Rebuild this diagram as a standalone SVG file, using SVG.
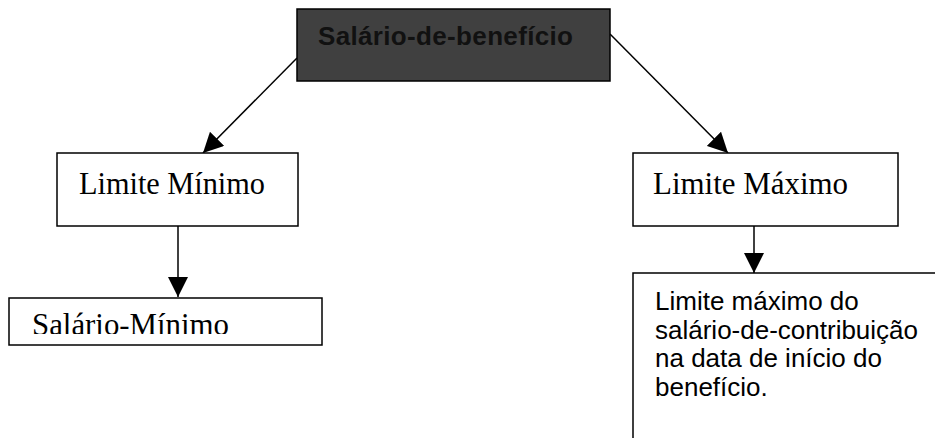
<svg xmlns="http://www.w3.org/2000/svg" width="935" height="438" viewBox="0 0 935 438">
  <style>
    .box { fill: #ffffff; stroke: #000000; stroke-width: 1.5; }
    .dark { fill: #404040; stroke: #000000; stroke-width: 1.5; }
    .conn { stroke: #000000; stroke-width: 1.5; fill: none; marker-end: url(#arrow); }
    .serif { font-family: "Liberation Serif", "Times New Roman", serif; font-size: 31px; fill: #000000; }
    .sans { font-family: "Liberation Sans", Arial, sans-serif; font-size: 26px; fill: #000000; }
    .bold { font-family: "Liberation Sans", Arial, sans-serif; font-size: 26px; font-weight: bold; fill: #111111; }
  </style>
  <defs>
    <marker id="arrow" markerUnits="userSpaceOnUse" viewBox="0 0 20 20" refX="20" refY="10" markerWidth="20" markerHeight="20" orient="auto">
      <path d="M0,0 L20,10 L0,20 z" fill="#000000"/>
    </marker>
    <clipPath id="clipSM">
      <rect x="9" y="298" width="313" height="36"/>
    </clipPath>
  </defs>
  <rect width="935" height="438" fill="#ffffff"/>

  <g id="connectors">
    <line class="conn" x1="297" y1="58" x2="203" y2="153"/>
    <line class="conn" x1="610" y1="34" x2="728" y2="153"/>
    <line class="conn" x1="178" y1="226" x2="178" y2="297"/>
    <line class="conn" x1="754" y1="226" x2="754" y2="273"/>
  </g>

  <g id="node-salario-beneficio">
    <rect class="dark" x="297" y="9" width="313" height="72"/>
    <text class="bold" x="318" y="45" textLength="255">Salário-de-benefício</text>
  </g>

  <g id="node-limite-minimo">
    <rect class="box" x="57" y="153" width="241" height="73"/>
    <text class="serif" x="79" y="194" textLength="186" lengthAdjust="spacingAndGlyphs">Limite Mínimo</text>
  </g>

  <g id="node-limite-maximo">
    <rect class="box" x="633" y="153" width="265" height="73"/>
    <text class="serif" x="653" y="194" textLength="195" lengthAdjust="spacingAndGlyphs">Limite Máximo</text>
  </g>

  <g id="node-salario-minimo">
    <rect class="box" x="9" y="298" width="313" height="47"/>
    <text class="serif" x="32" y="335" textLength="197" lengthAdjust="spacingAndGlyphs" clip-path="url(#clipSM)">Salário-Mínimo</text>
  </g>

  <g id="node-limite-maximo-desc">
    <rect class="box" x="633" y="273" width="330" height="200"/>
    <text class="sans" x="655" y="310">Limite máximo do</text>
    <text class="sans" x="655" y="339">salário-de-contribuição</text>
    <text class="sans" x="655" y="367">na data de início do</text>
    <text class="sans" x="655" y="396">benefício.</text>
  </g>
</svg>
